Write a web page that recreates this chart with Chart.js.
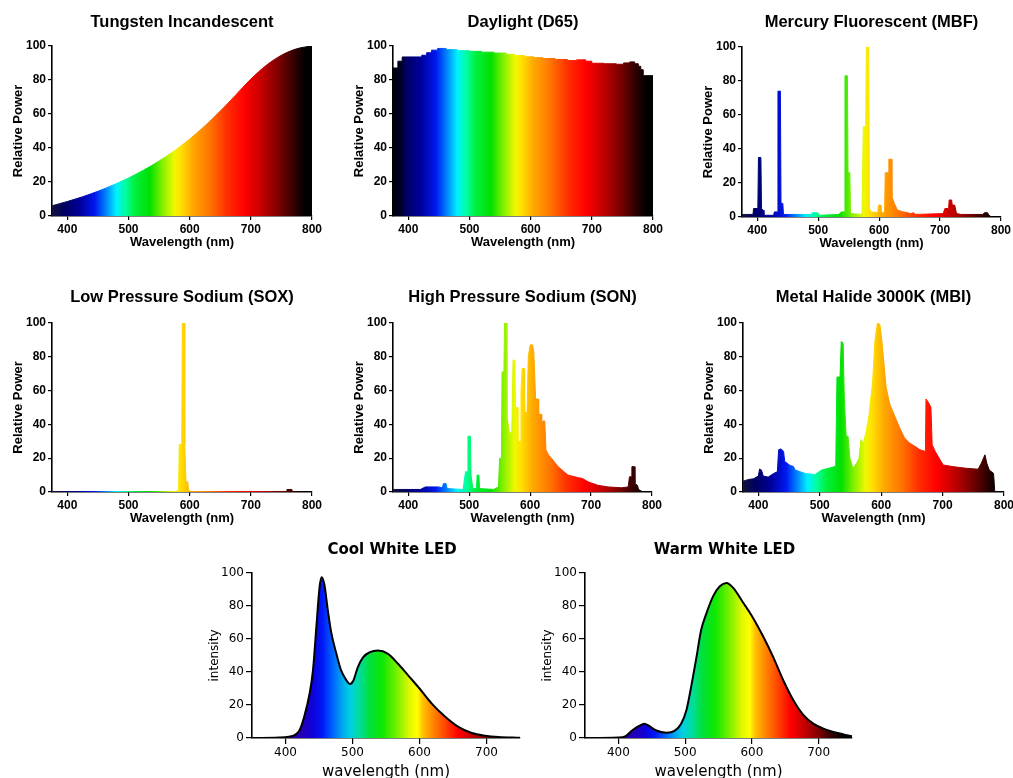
<!DOCTYPE html>
<html>
<head>
<meta charset="utf-8">
<script src="https://cdn.jsdelivr.net/npm/chart.js@4.4.1/dist/chart.umd.min.js"></script>
<style>
  html, body { margin: 0; padding: 0; background: #fff; overflow: hidden; }
  body { width: 1013px; height: 778px; position: relative; }
  canvas { position: absolute; }
</style>
</head>
<body>
<canvas id="tungsten"></canvas>
<canvas id="daylight"></canvas>
<canvas id="mercury"></canvas>
<canvas id="sox"></canvas>
<canvas id="son"></canvas>
<canvas id="metalHalide"></canvas>
<canvas id="coolLed"></canvas>
<canvas id="warmLed"></canvas>
<script>
// spectra: wavelength (nm) and relative power (0-100)
const tungstenNm = [375, 400, 425, 450, 475, 500, 525, 550, 575, 600, 625, 650, 675, 700, 725, 750, 775, 800];
const tungstenPower = [6, 8.5, 11.3, 14.5, 18.2, 22.3, 27, 32.3, 38.3, 45.2, 53, 61.7, 71, 80.5, 88.5, 94.5, 98.3, 100];

const daylightNm = [375, 383, 390, 422, 430, 438, 448, 462, 480, 500, 520, 540, 560, 575, 590, 605, 620, 640, 660, 675, 690, 700, 720, 740, 752, 762, 770, 776, 780, 784, 800];
const daylightPower = [87, 91, 93.5, 94.5, 96, 97.5, 98.5, 97.8, 97.2, 96.8, 96.3, 95.8, 95, 94.3, 93.6, 93.1, 92.6, 92, 91.4, 91.8, 91, 89.8, 89.5, 89.2, 90, 90.6, 89.5, 88, 86, 82.5, 82.5];

const mercuryNm = [375, 393, 394, 401, 402, 406, 407, 410, 411, 427, 428, 433, 434, 438, 439, 442, 443, 488, 491, 499, 502, 534, 538, 543, 544, 548, 549, 552, 553, 572, 574, 578, 579, 583, 584, 587, 598, 599, 602, 603, 609, 610, 615, 616, 620, 621, 625, 630, 640, 652, 656, 660, 705, 708, 714, 715, 719, 720, 724, 727, 735, 770, 773, 778, 780, 785];
const mercuryPower = [1.5, 1.5, 5, 5, 35, 35, 5, 4, 1, 1, 3, 3, 74, 74, 8, 8, 1.5, 1.5, 2.5, 2.5, 1, 1.5, 3, 3, 83, 83, 26, 26, 2, 1.5, 53, 53, 100, 100, 5, 3, 2.5, 7, 7, 2.5, 2.5, 26, 26, 34, 34, 12, 8, 4, 3, 2, 2.5, 1.5, 2, 5, 5, 10, 10, 7, 7, 2, 1.5, 1.5, 2.5, 2.5, 1, 0];

const soxNm = [375, 578, 582, 583, 587, 588, 591, 592, 594, 597, 598, 602, 758, 759, 767, 768, 790];
const soxPower = [0.3, 0.3, 1, 28, 28, 100, 100, 28, 6, 6, 1, 0.3, 0.3, 1.5, 1.5, 0.3, 0.3];

const sonNm = [375, 420, 428, 450, 456, 458, 462, 464, 490, 494, 497, 498, 502, 503, 506, 512, 513, 516, 517, 540, 548, 550, 553, 554, 557, 558, 561, 562, 566, 570, 572, 575, 576, 579, 580, 584, 585, 587, 590, 591, 595, 597, 600, 604, 606, 609, 613, 614, 618, 619, 621, 624, 626, 630, 635, 646, 662, 679, 686, 695, 711, 728, 750, 761, 763, 766, 767, 771, 772, 776, 778, 785];
const sonPower = [1.5, 1.5, 3, 3, 2.5, 5, 5, 2, 1.5, 12, 12, 33, 33, 10, 2, 2, 10, 10, 2, 1.5, 3, 20, 20, 71, 71, 100, 100, 45, 35, 35, 78, 78, 50, 50, 30, 30, 60, 73, 73, 47, 47, 80, 87, 87, 83, 55, 55, 46, 46, 38, 42, 42, 25, 22, 20, 15, 10, 8.5, 8, 6, 4, 3, 2.5, 3, 9, 9, 15, 15, 5, 4, 1.5, 0];

const metalNm = [375, 384, 392, 400, 402, 405, 408, 416, 425, 431, 433, 437, 441, 443, 447, 452, 457, 460, 476, 492, 503, 514, 526, 528, 533, 535, 538, 540, 543, 546, 549, 554, 560, 564, 567, 571, 575, 580, 586, 590, 594, 598, 601, 604, 608, 614, 622, 630, 638, 646, 655, 663, 672, 673, 677, 681, 683, 688, 696, 701, 717, 739, 758, 763, 769, 772, 776, 783, 785];
const metalPower = [6.4, 7.4, 7.8, 9.4, 13.6, 13, 9.4, 8.8, 11, 12, 25, 25.5, 24, 18, 17, 15.6, 15.2, 13, 11, 10.3, 13, 14, 15.2, 68, 68, 89, 88, 55, 33, 33, 20, 14, 17, 20, 31, 29, 35, 45, 65, 90, 100, 99, 90, 78, 62, 52, 45, 38, 32, 29, 27, 25, 24, 55, 53, 50, 28, 24, 19, 16, 15, 14, 13.5, 17, 22, 17, 13, 11, 0];

const coolNm = [350, 390, 405, 413, 421, 428, 436, 441, 446, 451, 454, 458, 463, 468, 476, 483, 491, 496, 501, 508, 516, 526, 538, 553, 568, 583, 600, 618, 638, 658, 678, 698, 718, 750];
const coolIntensity = [0, 0.3, 0.8, 1.6, 4.7, 13, 27, 41, 67, 92, 97.5, 93, 78, 64.5, 51, 41, 35, 32.7, 34.5, 43, 49, 52, 53, 51, 45, 38, 30, 21, 13, 6.7, 3, 1.4, 0.6, 0.1];

const warmNm = [350, 400, 411, 421, 431, 439, 446, 456, 472, 484, 494, 502, 509, 517, 524, 532, 542, 552, 562, 572, 587, 600, 617, 632, 647, 662, 677, 692, 707, 722, 737, 750];
const warmIntensity = [0, 0.3, 1.2, 4.7, 7.3, 8.7, 7.3, 4.7, 3.2, 4.3, 8.7, 17, 31, 49, 65.5, 75.7, 86, 92, 94, 91, 82, 74, 61.5, 49, 35, 23, 14, 8.7, 5.7, 3.7, 2.2, 1];

const lampTicks = [400, 500, 600, 700, 800];
const ledTicks = [400, 500, 600, 700];
const powerTicks = [0, 20, 40, 60, 80, 100];

// colour of the light at each wavelength
const lampSpectrum = [
  [375, '#14143c'], [395, '#000060'], [420, '#00009a'], [445, '#0018f0'],
  [465, '#0090ff'], [480, '#00f0ff'], [495, '#00ffa0'], [510, '#00f040'],
  [535, '#00e000'], [555, '#80f000'], [575, '#f0f800'], [585, '#ffe000'],
  [605, '#ffa800'], [635, '#ff7000'], [660, '#ff3000'], [690, '#ff0000'],
  [720, '#c00000'], [750, '#700000'], [775, '#250000'], [790, '#000000'], [800, '#000000'],
];
const daylightSpectrum = [[375, '#000008'], [390, '#000030']].concat(lampSpectrum.slice(1));
const ledSpectrum = [
  [400, '#3000a0'], [425, '#2200b8'], [440, '#1000d8'], [455, '#0018f8'],
  [470, '#0060ff'], [485, '#00a8f0'], [497, '#00d0e0'], [510, '#00dca0'],
  [525, '#00e040'], [545, '#10e800'], [565, '#70f000'], [585, '#e0f800'],
  [597, '#ffff00'], [605, '#ffc000'], [622, '#ff8000'], [640, '#ff4000'],
  [658, '#ff0000'], [680, '#c00000'], [700, '#800000'], [720, '#300000'],
  [740, '#000000'], [750, '#000000'],
];

const lampLook = {
  family: '"Liberation Sans", Arial, sans-serif', weight: 'bold',
  titleSize: 16.5, tickSize: 12, xTitleSize: 13, yTitleSize: 13,
  yw: 52, dw: 52, xh: 34, yTitleGap: 34, tickLength: 4, axisWidth: 1.6,
  min: 375, max: 800, xTicks: lampTicks,
  xLabel: 'Wavelength (nm)', yLabel: 'Relative Power', stops: lampSpectrum,
};
const ledLook = {
  family: '"DejaVu Sans", sans-serif', weight: 'normal',
  titleSize: 15, tickSize: 12, xTitleSize: 15, yTitleSize: 12,
  yw: 50, dw: 62, xh: 43, yTitleGap: 37, tickLength: 6, axisWidth: 1.6,
  min: 350, max: 750, xTicks: ledTicks,
  xLabel: 'wavelength (nm)', yLabel: 'intensity', stops: ledSpectrum,
};

function spectrumFill(stops) {
  return (context) => {
    const { ctx, chartArea, scales } = context.chart;
    if (!chartArea) return null;
    const x0 = scales.x.getPixelForValue(stops[0][0]);
    const x1 = scales.x.getPixelForValue(stops[stops.length - 1][0]);
    const gradient = ctx.createLinearGradient(x0, 0, x1, 0);
    stops.forEach(([nm, colour]) => {
      gradient.addColorStop((scales.x.getPixelForValue(nm) - x0) / (x1 - x0), colour);
    });
    return gradient;
  };
}

function drawSpectrum(id, title, nm, power, look, box, line) {
  const titleLh = look.titleSize * 1.2;
  const canvas = document.getElementById(id);
  const top = box.titleY - titleLh / 2 - 4;
  canvas.width = box.r - box.l + look.yw + look.dw;
  canvas.height = box.b + look.xh - top;
  canvas.style.left = (box.l - look.yw) + 'px';
  canvas.style.top = top + 'px';

  const font = (size, weight) => ({ family: look.family, size, weight: weight || look.weight });
  const fill = spectrumFill(line.stops || look.stops);

  return new Chart(canvas, {
    type: 'line',
    data: {
      datasets: [{
        data: nm.map((x, i) => ({ x, y: power[i] })),
        fill: 'origin',
        backgroundColor: fill,
        borderColor: line.outline ? '#000' : fill,
        borderWidth: line.outline ? 2 : 1,
        pointRadius: 0,
        tension: 0,
        cubicInterpolationMode: line.smooth ? 'monotone' : 'default',
        stepped: line.stepped || false,
      }],
    },
    options: {
      responsive: false,
      animation: false,
      events: [],
      layout: { padding: 0, autoPadding: false },
      plugins: {
        legend: { display: false },
        tooltip: { enabled: false },
        title: {
          display: true,
          text: title,
          color: '#000',
          font: font(look.titleSize, 'bold'),
          padding: { top: 4, bottom: box.t - box.titleY - titleLh / 2 },
        },
      },
      scales: {
        x: {
          type: 'linear',
          min: look.min,
          max: look.max,
          afterBuildTicks: (axis) => { axis.ticks = look.xTicks.map((v) => ({ value: v })); },
          afterFit: (scale) => { scale.height = look.xh; },
          grid: { display: true, drawOnChartArea: false, tickLength: look.tickLength, color: '#000', lineWidth: 1.2 },
          border: { display: true, color: '#000', width: look.axisWidth },
          ticks: { color: '#000', padding: 2, maxRotation: 0, font: font(look.tickSize) },
          title: {
            display: true, text: look.xLabel, color: '#000',
            font: font(look.xTitleSize), padding: { top: 0, bottom: 0 },
          },
        },
        y: {
          type: 'linear',
          min: 0,
          max: 100,
          afterBuildTicks: (axis) => { axis.ticks = powerTicks.map((v) => ({ value: v })); },
          afterFit: (scale) => { scale.width = look.yw; },
          grid: { display: true, drawOnChartArea: false, tickLength: look.tickLength, color: '#000', lineWidth: 1.2 },
          border: { display: true, color: '#000', width: look.axisWidth },
          ticks: { color: '#000', padding: 2, font: font(look.tickSize) },
          title: {
            display: true, text: look.yLabel, color: '#000', font: font(look.yTitleSize),
            padding: { top: look.yw - look.yTitleGap - look.yTitleSize * 0.6, bottom: 0 },
          },
        },
        // empty right-hand axis so the title sits over the plot
        pad: {
          position: 'right',
          display: true,
          grid: { display: false },
          border: { display: false },
          ticks: { display: false },
          afterFit: (scale) => { scale.width = look.dw; },
        },
      },
    },
  });
}

drawSpectrum('tungsten', 'Tungsten Incandescent', tungstenNm, tungstenPower, lampLook,
  { l: 52, r: 312, t: 46, b: 217, titleY: 23 }, { smooth: true });
drawSpectrum('daylight', 'Daylight (D65)', daylightNm, daylightPower, lampLook,
  { l: 393, r: 653, t: 46, b: 217, titleY: 23 }, { stepped: true, stops: daylightSpectrum });
drawSpectrum('mercury', 'Mercury Fluorescent (MBF)', mercuryNm, mercuryPower, lampLook,
  { l: 742, r: 1001, t: 47, b: 218, titleY: 23 }, {});
drawSpectrum('sox', 'Low Pressure Sodium (SOX)', soxNm, soxPower, lampLook,
  { l: 52, r: 312, t: 323, b: 493, titleY: 298 }, {});
drawSpectrum('son', 'High Pressure Sodium (SON)', sonNm, sonPower, lampLook,
  { l: 393, r: 652, t: 323, b: 493, titleY: 298 }, {});
drawSpectrum('metalHalide', 'Metal Halide 3000K (MBI)', metalNm, metalPower, lampLook,
  { l: 743, r: 1004, t: 323, b: 493, titleY: 298 }, {});
drawSpectrum('coolLed', 'Cool White LED', coolNm, coolIntensity, ledLook,
  { l: 252, r: 520, t: 573, b: 738, titleY: 550 }, { smooth: true, outline: true });
drawSpectrum('warmLed', 'Warm White LED', warmNm, warmIntensity, ledLook,
  { l: 585, r: 852, t: 573, b: 738, titleY: 550 }, { smooth: true, outline: true });
</script>
</body>
</html>
